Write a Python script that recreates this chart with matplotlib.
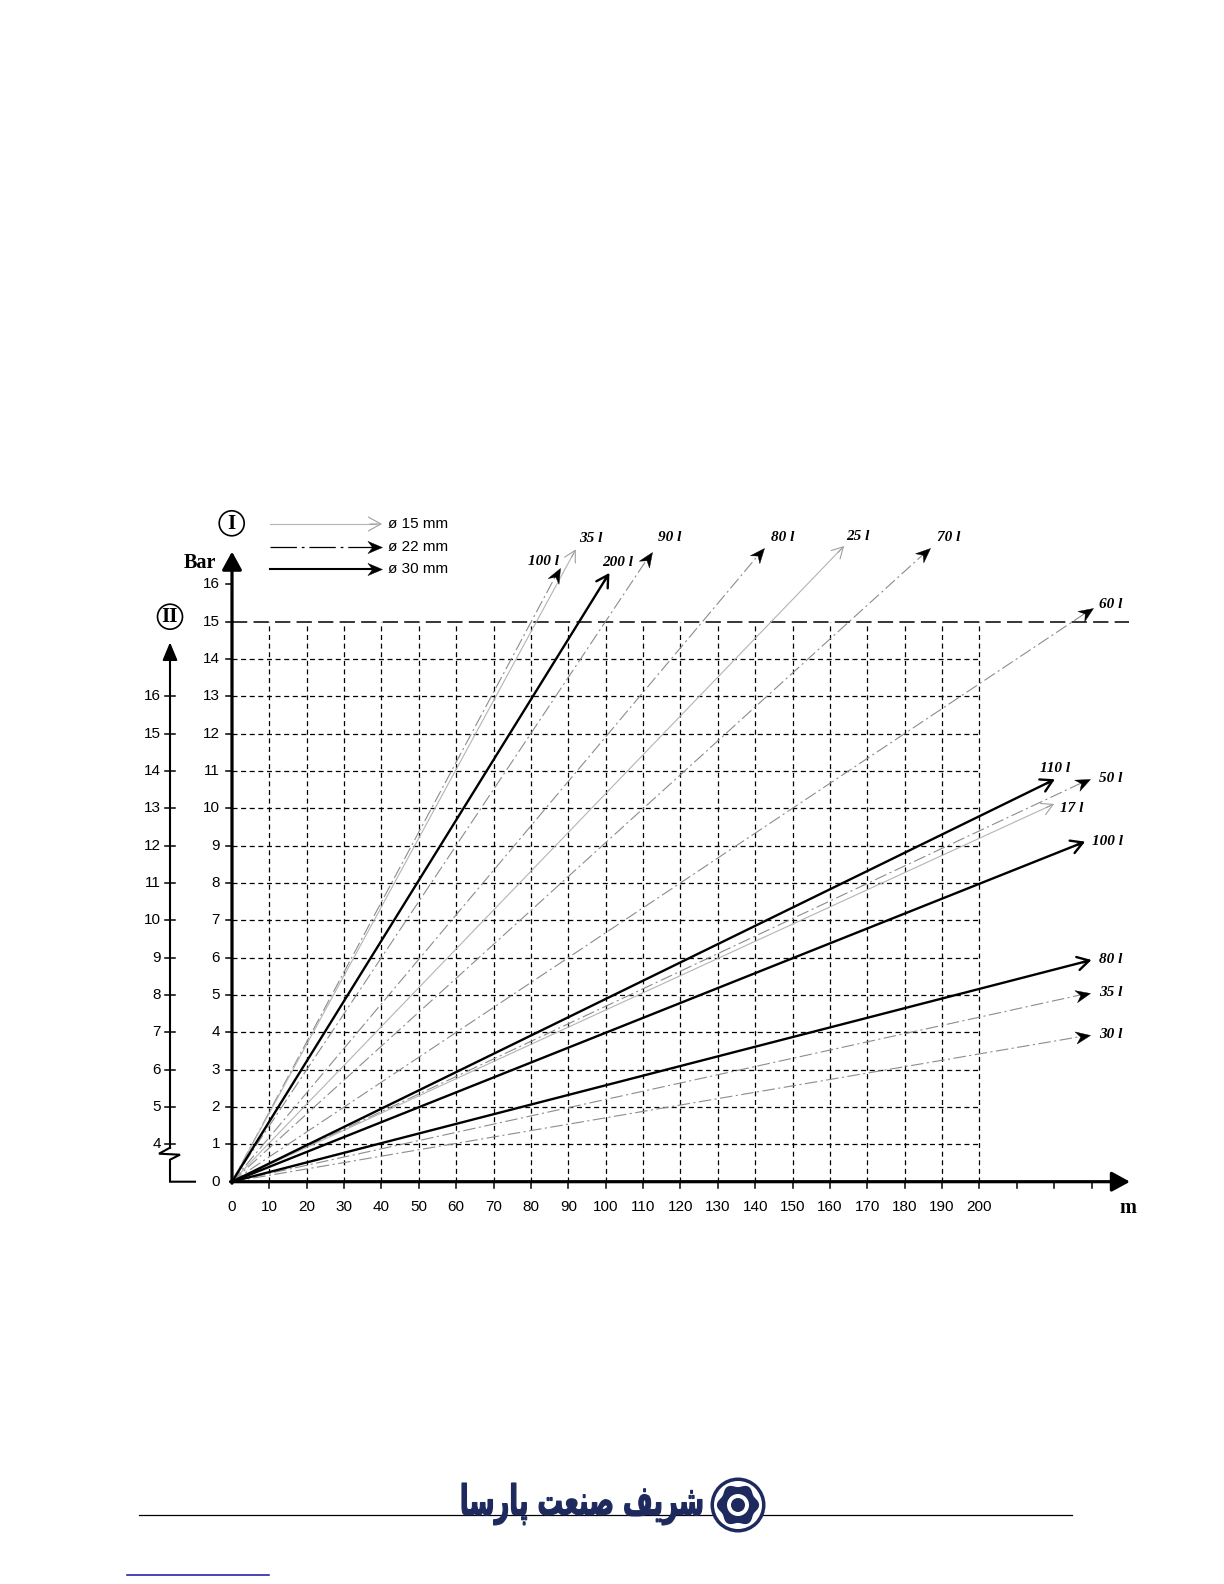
import numpy as np
import matplotlib
matplotlib.use("Agg")
import matplotlib.pyplot as plt
from matplotlib.patches import Circle, Polygon, PathPatch
from matplotlib.path import Path
from matplotlib.markers import MarkerStyle
from matplotlib.transforms import Affine2D
from matplotlib.textpath import TextPath
from matplotlib.font_manager import FontProperties
from matplotlib import font_manager
from matplotlib.ft2font import FT2Font

# ---------------------------------------------------------------------------
# Pressure loss (bar) versus hose length (m) for several flow rates and
# hose diameters.  Each line runs from the origin to its end point.
# ---------------------------------------------------------------------------
flow_labels = ["100 l", "35 l", "200 l", "90 l", "80 l", "25 l", "70 l", "60 l",
               "110 l", "50 l", "17 l", "100 l", "80 l", "35 l", "30 l"]
pipe_diameter_mm = [22, 15, 30, 22, 22, 15, 22, 22,
                    30, 22, 15, 30, 30, 22, 22]
end_length_m = [87.8, 92.0, 101.0, 112.3, 142.4, 163.8, 186.8, 230.3,
                220.2, 229.6, 220.0, 228.3, 230.0, 229.6, 229.6]
end_pressure_bar = [16.45, 16.94, 16.31, 16.86, 16.97, 17.03, 16.97, 15.36,
                    10.78, 10.79, 10.12, 9.11, 5.94, 5.06, 3.93]

x_tick_labels = list(range(0, 201, 10))
x_extra_ticks = [210, 220, 230]
y_tick_labels = list(range(0, 17))
y2_tick_labels = list(range(4, 17))   # scale II = scale I + 3
y2_shift = 3
legend_diameters = [15, 22, 30]
company_name = "شریف صنعت پارسا"

# ---------------------------------------------------------------------------
W, H, DPI = 1224, 1584, 100
plt.rcParams["lines.scale_dashes"] = False
fig = plt.figure(figsize=(W / DPI, H / DPI), dpi=DPI, facecolor="white")

ORIGIN_X, ORIGIN_Y = 232.0, 1181.7     # figure pixels of (0 m, 0 bar)
PX_PER_M, PX_PER_BAR = 3.737, 37.33

ax = fig.add_axes([0, 0, 1, 1])
ax.set_xlim(-ORIGIN_X / PX_PER_M, (W - ORIGIN_X) / PX_PER_M)
ax.set_ylim((ORIGIN_Y - H) / PX_PER_BAR, ORIGIN_Y / PX_PER_BAR)
ax.axis("off")


def mx(px):
    return px / PX_PER_M


def by(px):
    return px / PX_PER_BAR


SANS = "Liberation Sans"
SERIF = "Liberation Serif"

# notched arrowhead, tip at the origin, pointing along +x
NOTCHED = Path([(0, 0), (-1.0, 0.42), (-0.68, 0), (-1.0, -0.42), (0, 0)],
               [Path.MOVETO, Path.LINETO, Path.LINETO, Path.LINETO, Path.CLOSEPOLY])


def notched_marker(angle_rad):
    return MarkerStyle(NOTCHED, transform=Affine2D().rotate(angle_rad))


# --- grid ------------------------------------------------------------------
grid_kw = dict(color="black", lw=0.9, ls=(0, (3.6, 2.6)), zorder=1)
for m in x_tick_labels[1:]:
    ax.plot([m, m], [0, 15], **grid_kw)
for b in range(1, 15):
    ax.plot([0, 200], [b, b], **grid_kw)
ax.plot([0, 240], [15, 15], color="black", lw=1.1, ls=(0, (11, 4.5)), zorder=1)

# --- pressure loss lines -----------------------------------------------------
styles = {
    15: dict(color="#b4b4b4", lw=0.8, ls="-", head="->,head_length=0.4,head_width=0.22",
             hcolor="#a0a0a0", hlw=0.8, z=2),
    22: dict(color="#8c8c8c", lw=0.8, ls=(0, (9, 2.5, 1.5, 2.5)), head=None,
             hcolor="black", hlw=0.8, z=2),
    30: dict(color="black", lw=1.7, ls="-", head="->,head_length=0.42,head_width=0.24",
             hcolor="black", hlw=1.7, z=3),
}
label_offsets_px = [(-17, 6), (15, 11), (8, 10), (18, 15), (19, 11), (14, 9), (19, 11),
                    (18, 4), (0, 11), (21, 0), (18, -5), (22, 0), (19, 0), (21, 0), (21, 0)]

for lab, d, L, P, off in zip(flow_labels, pipe_diameter_mm, end_length_m,
                             end_pressure_bar, label_offsets_px):
    st = styles[d]
    ux, uy = L * PX_PER_M, P * PX_PER_BAR
    ang = np.arctan2(uy, ux)
    n = np.hypot(ux, uy)
    ux, uy = ux / n, uy / n
    back = 9.0
    ax.plot([0, L - mx(back * ux) * 0.5], [0, P - by(back * uy) * 0.5],
            color=st["color"], lw=st["lw"], ls=st["ls"], zorder=st["z"],
            solid_capstyle="butt")
    if st["head"] is None:
        ax.plot([L], [P], ls="none", marker=notched_marker(ang), markersize=21,
                color=st["hcolor"], markeredgewidth=0.3, zorder=st["z"] + 1)
    else:
        ax.annotate("", xy=(L, P), xytext=(L - mx(back * ux), P - by(back * uy)),
                    arrowprops=dict(arrowstyle=st["head"], color=st["hcolor"],
                                    lw=st["hlw"], mutation_scale=20,
                                    shrinkA=0, shrinkB=0),
                    zorder=st["z"] + 1)
    ax.annotate(lab, xy=(L, P), xytext=off, textcoords="offset pixels",
                ha="center", va="center", fontsize=11, family=SERIF,
                style="italic", weight="bold", zorder=6)

# --- main axes with arrows ---------------------------------------------------
axis_arrow = dict(arrowstyle="-|>,head_length=0.55,head_width=0.3", color="black",
                  lw=2.3, mutation_scale=20, shrinkA=0, shrinkB=0)
ax.annotate("", xy=(240.3, 0), xytext=(-mx(1.5), 0), arrowprops=axis_arrow, zorder=5)
ax.annotate("", xy=(0, 16.88), xytext=(0, -by(1.5)), arrowprops=axis_arrow, zorder=5)

for m in x_tick_labels[1:] + x_extra_ticks:
    ax.plot([m, m], [0, -by(6)], color="black", lw=1.1, zorder=5)
for m in x_tick_labels:
    ax.annotate(str(m), xy=(m, 0), xytext=(0, -25.5), textcoords="offset pixels",
                ha="center", va="center", fontsize=11, family=SANS)

for b in y_tick_labels[1:]:
    ax.plot([-mx(6), 0], [b, b], color="black", lw=1.1, zorder=5)
for b in y_tick_labels:
    ax.annotate(str(b), xy=(0, b), xytext=(-12, 0), textcoords="offset pixels",
                ha="right", va="center", fontsize=11, family=SANS)

# --- secondary pressure scale (II) -----------------------------------------
m2 = -mx(62)
ax.annotate("", xy=(m2, 14.45), xytext=(m2, 0.9),
            arrowprops=dict(arrowstyle="-|>,head_length=0.6,head_width=0.25",
                            color="black", lw=1.5, mutation_scale=18,
                            shrinkA=0, shrinkB=0), zorder=5)
zig_px = [(0, 34), (-11, 28), (10, 27), (0, 22), (0, 0), (25, 0)]
ax.plot([m2 + mx(p[0]) for p in zig_px], [by(p[1]) for p in zig_px],
        color="black", lw=1.5, zorder=5, solid_joinstyle="miter")
for v in y2_tick_labels:
    b = v - y2_shift
    ax.plot([m2 - mx(5), m2 + mx(5)], [b, b], color="black", lw=1.1, zorder=5)
    ax.annotate(str(v), xy=(m2, b), xytext=(-9, 0), textcoords="offset pixels",
                ha="right", va="center", fontsize=11, family=SANS)

# ---------------------------------------------------------------------------
# Decorations in figure pixel space
# ---------------------------------------------------------------------------
pax = fig.add_axes([0, 0, 1, 1])
pax.set_xlim(0, W)
pax.set_ylim(H, 0)
pax.axis("off")

pax.text(200, 568, "Bar", ha="center", va="baseline", fontsize=14.5,
         family=SERIF, weight="bold")
pax.text(1128, 1213, "m", ha="center", va="baseline", fontsize=14.5,
         family=SERIF, weight="bold")

for (cx, cy), txt in [((231.7, 523.3), "I"), ((170.0, 616.7), "II")]:
    pax.add_patch(Circle((cx, cy), 12.5, fc="white", ec="black", lw=1.2, zorder=5))
    pax.text(cx, cy + 5.5, txt, ha="center", va="baseline", fontsize=15,
             family=SERIF, weight="bold", zorder=6)

legend_y = [524.0, 546.7, 569.0]
legend_style = {
    15: dict(color="#b4b4b4", lw=0.8, ls="-", hcolor="#a0a0a0", hlw=0.8),
    22: dict(color="black", lw=0.9, ls=(0, (19, 3.5, 2, 3.5)), hcolor="black", hlw=0.9),
    30: dict(color="black", lw=1.5, ls="-", hcolor="black", hlw=1.5),
}
for d, yy in zip(legend_diameters, legend_y):
    st = legend_style[d]
    pax.plot([270, 376], [yy, yy], color=st["color"], lw=st["lw"], ls=st["ls"])
    if d == 15:
        pax.annotate("", xy=(382, yy), xytext=(370, yy),
                     arrowprops=dict(arrowstyle="->,head_length=0.45,head_width=0.25",
                                     color=st["hcolor"], lw=st["hlw"], mutation_scale=20,
                                     shrinkA=0, shrinkB=0))
    else:
        pax.plot([382], [yy], ls="none", marker=notched_marker(0.0), markersize=21,
                 color="black", markeredgewidth=0.3)
    pax.text(388, yy, f"ø {d} mm", ha="left", va="center", fontsize=11, family=SANS)

# --- footer ------------------------------------------------------------------
NAVY = "#1e2a5e"
pax.plot([139, 1072], [1515, 1515], color="black", lw=0.9, zorder=1)
pax.plot([127, 269], [1574.5, 1574.5], color="#1414a0", lw=1.1)

# logo
lx, ly = 738, 1505
pax.add_patch(Circle((lx, ly), 27.5, fc=NAVY, ec="none", zorder=3))
pax.add_patch(Circle((lx, ly), 24.0, fc="white", ec="none", zorder=3))
th = np.linspace(0, 2 * np.pi, 400)
rr = 19.5 + 1.6 * np.cos(6 * th)
pax.add_patch(Polygon(np.column_stack([lx + rr * np.cos(th), ly + rr * np.sin(th)]),
                      closed=True, fc=NAVY, ec="none", zorder=3))
pax.add_patch(Circle((lx, ly), 11.0, fc="white", ec="none", zorder=3))
pax.add_patch(Circle((lx, ly), 7.0, fc=NAVY, ec="none", zorder=3))

# Persian name, shaped into presentation forms in visual order
FORMS = {  # isolated, final, initial, medial, joins to following letter
    "ش": (0xFEB5, 0xFEB6, 0xFEB7, 0xFEB8, True),
    "ر": (0xFEAD, 0xFEAE, None, None, False),
    "ی": (0xFBFC, 0xFBFD, 0xFBFE, 0xFBFF, True),
    "ف": (0xFED1, 0xFED2, 0xFED3, 0xFED4, True),
    "ص": (0xFEB9, 0xFEBA, 0xFEBB, 0xFEBC, True),
    "ن": (0xFEE5, 0xFEE6, 0xFEE7, 0xFEE8, True),
    "ع": (0xFEC9, 0xFECA, 0xFECB, 0xFECC, True),
    "ت": (0xFE95, 0xFE96, 0xFE97, 0xFE98, True),
    "پ": (0xFB56, 0xFB57, 0xFB58, 0xFB59, True),
    "ا": (0xFE8D, 0xFE8E, None, None, False),
    "س": (0xFEB1, 0xFEB2, 0xFEB3, 0xFEB4, True),
}
SUBST = {0xFBFC: 0xFEEF, 0xFBFD: 0xFEF0, 0xFBFE: 0xFEF3, 0xFBFF: 0xFEF4,
         0xFB56: 0xFE8F, 0xFB57: 0xFE90, 0xFB58: 0xFE91, 0xFB59: 0xFE92}


def font_path(family, weight):
    try:
        return font_manager.findfont(FontProperties(family=family, weight=weight),
                                     fallback_to_default=False)
    except Exception:
        return None


def shape(text, cmap):
    out = []
    for word in text.split(" "):
        letters = []
        for i, ch in enumerate(word):
            iso, fin, ini, med, dual = FORMS[ch]
            prev_joins = i > 0 and FORMS[word[i - 1]][4]
            has_next = i < len(word) - 1
            if prev_joins and has_next and dual:
                cp = med
            elif prev_joins:
                cp = fin
            elif has_next and dual:
                cp = ini
            else:
                cp = iso
            if cp not in cmap and cp in SUBST:
                cp = SUBST[cp]
            letters.append(chr(cp))
        out.append("".join(letters))
    return " ".join(out)[::-1]


fw = "bold"
fpath = font_path("DejaVu Sans", "bold")
if fpath is None:
    fpath = font_path("DejaVu Sans", "normal")
    fw = "normal"
cmap = FT2Font(fpath).get_charmap()
if ord("\uFEB7") not in cmap:
    fw = "normal"
    cmap = FT2Font(font_path("DejaVu Sans", "normal")).get_charmap()

# the name is set as a glyph outline fitted into its box on the footer
name_box = (462.0, 702.0, 1483.0, 1525.0)   # left, right, top, bottom (pixels)
tp = TextPath((0, 0), shape(company_name, cmap), size=40,
              prop=FontProperties(family="DejaVu Sans", weight=fw))
ext = tp.get_extents()
sx = (name_box[1] - name_box[0]) / ext.width
sy = (name_box[3] - name_box[2]) / ext.height
name_tf = (Affine2D().translate(-ext.x0, -ext.y1).scale(sx, -sy)
           .translate(name_box[0], name_box[2]))
pax.add_patch(PathPatch(name_tf.transform_path(tp), fc=NAVY, ec=NAVY, lw=0.8,
                        zorder=4))

fig.savefig("out.png", dpi=DPI, facecolor="white")
